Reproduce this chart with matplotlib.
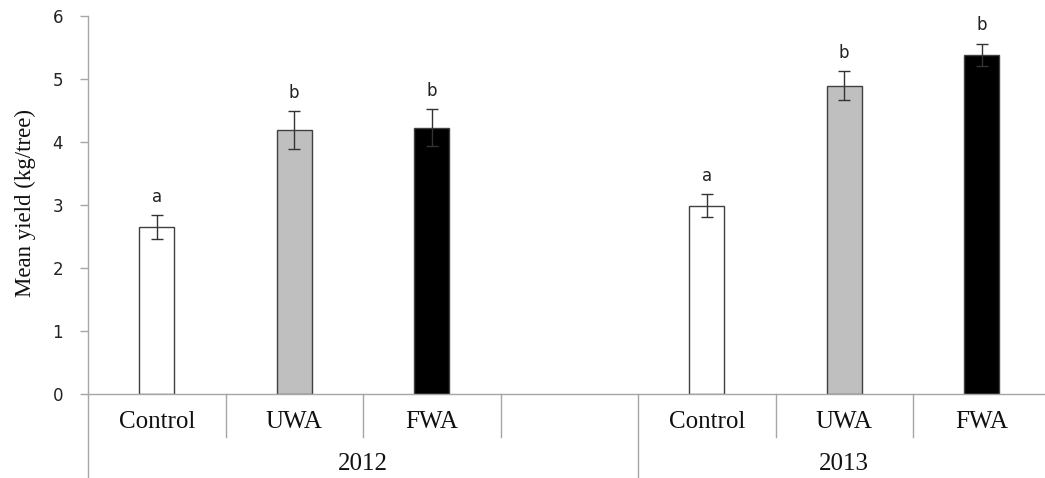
import matplotlib
matplotlib.use("Agg")
import matplotlib.pyplot as plt
import matplotlib.transforms as mtransforms

# data
treatments = ["Control", "UWA", "FWA"]
years = ["2012", "2013"]
yield_2012 = [2.65, 4.19, 4.23]
yield_2013 = [2.99, 4.89, 5.38]
err_2012 = [0.19, 0.30, 0.29]
err_2013 = [0.18, 0.23, 0.18]
letters_2012 = ["a", "b", "b"]
letters_2013 = ["a", "b", "b"]

fills = ["white", "#bfbfbf", "black"]
edge = "#404040"
grey = "#a6a6a6"
serif = "Liberation Serif"

# slot positions: 2012 takes 4 slots (last one empty), 2013 takes 3
pos_2012 = [0, 1, 2]
pos_2013 = [4, 5, 6]
bar_w = 0.255

fig = plt.figure(figsize=(10.45, 4.78), dpi=100)
ax = fig.add_axes([88 / 1045, 84 / 478, 962.5 / 1045, 378 / 478])

for pos, vals, errs, lets in [(pos_2012, yield_2012, err_2012, letters_2012),
                              (pos_2013, yield_2013, err_2013, letters_2013)]:
    ax.bar(pos, vals, width=bar_w, color=fills, edgecolor=edge, linewidth=1.0, zorder=2)
    ax.errorbar(pos, vals, yerr=errs, fmt="none", ecolor="#333333", elinewidth=1.0,
                capsize=4.5, capthick=1.0, zorder=3)
    for x, v, e, t in zip(pos, vals, errs, lets):
        ax.text(x, v + e + 0.15, t, ha="center", va="bottom", fontsize=12,
                family="DejaVu Sans", color="#222222")

ax.set_xlim(-0.5, 6.5)
ax.set_ylim(0, 6)
ax.set_yticks(range(7))
ax.set_xticks([])
ax.tick_params(axis="y", length=6, width=1, color=grey, pad=12, labelsize=12,
               labelcolor="#222222")

for s in ["top", "right"]:
    ax.spines[s].set_visible(False)
for s in ["left", "bottom"]:
    ax.spines[s].set_color(grey)
    ax.spines[s].set_linewidth(1.0)

trans = mtransforms.blended_transform_factory(ax.transData, ax.transAxes)
# category dividers and group dividers below the axis
for x in [0.5, 1.5, 2.5, 4.5, 5.5]:
    ax.plot([x, x], [0, -0.114], transform=trans, color=grey, lw=1.0, clip_on=False)
for x in [-0.5, 3.5]:
    ax.plot([x, x], [0, -0.23], transform=trans, color=grey, lw=1.0, clip_on=False)

for pos in [pos_2012, pos_2013]:
    for x, name in zip(pos, treatments):
        ax.text(x, -0.074, name, transform=trans, ha="center", va="center",
                fontsize=18, family=serif, color="#111111")
for x, yr in zip([1.5, 5.0], years):
    ax.text(x, -0.185, yr, transform=trans, ha="center", va="center",
            fontsize=18, family=serif, color="#111111")

ax.text(-0.0655, 0.505, "Mean yield (kg/tree)", transform=ax.transAxes, rotation=90,
        ha="center", va="center", fontsize=16.5, family=serif, color="#111111")

fig.savefig("out.png", dpi=100)
